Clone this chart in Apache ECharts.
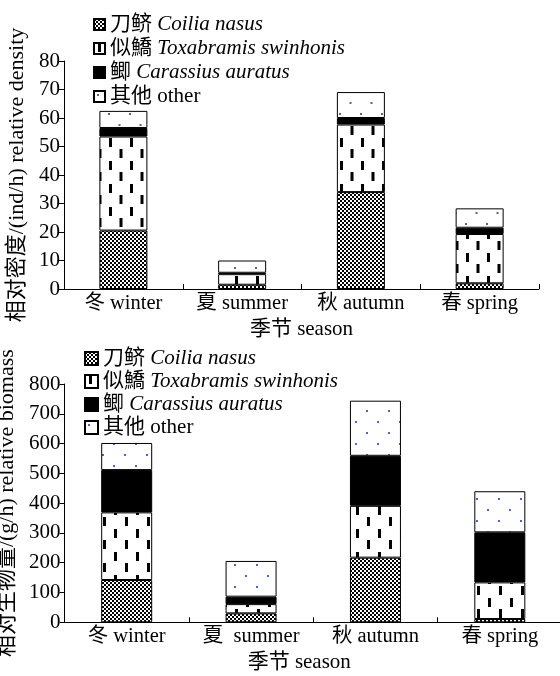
<!DOCTYPE html>
<html>
<head>
<meta charset="utf-8">
<script src="https://cdn.jsdelivr.net/npm/echarts@6/dist/echarts.min.js"></script>
<style>
html,body{margin:0;padding:0;background:#fff;}
#chart{width:560px;height:676px;}
</style>
</head>
<body>
<div id="chart"></div>
<script>
// ---- data ----
var seasons = ['冬 winter', '夏 summer', '秋 autumn', '春 spring'];
var seasonsBottom = ['冬 winter', '夏  summer', '秋 autumn', '春 spring'];
var speciesCn = ['刀鲚', '似鱎', '鲫', '其他'];
var speciesLatin = ['Coilia nasus', 'Toxabramis swinhonis', 'Carassius auratus', 'other'];
var latinItalic = [true, true, true, false];

var densityCoilia = [20.5, 1.5, 34, 2];
var densityToxabramis = [33, 3.7, 23.7, 17.3];
var densityCarassius = [3, 0.5, 2.3, 2.2];
var densityOther = [6, 4.3, 9.1, 6.8];

var biomassCoilia = [142, 30, 217, 11];
var biomassToxabramis = [227, 31, 174, 123];
var biomassCarassius = [142, 25, 168, 168];
var biomassOther = [91, 120, 185, 138];

var densityTicks = [0, 80, 10];
var biomassTicks = [0, 800, 100];

// ---- patterns ----
function mk(w, h, draw) {
  var c = document.createElement('canvas');
  c.width = w; c.height = h;
  var g = c.getContext('2d');
  g.fillStyle = '#fff'; g.fillRect(0, 0, w, h);
  draw(g);
  return { image: c, repeat: 'repeat' };
}
function checker() {
  return mk(4, 4, function (g) {
    g.fillStyle = '#000';
    g.fillRect(0, 0, 2, 2); g.fillRect(2, 2, 2, 2);
  });
}
function dashes(w) {
  return mk(w, 23, function (g) {
    g.fillStyle = '#000';
    g.fillRect(4, 0, 3, 9);
    g.fillRect(4 + w / 2, 11, 3, 9);
  });
}
function dots(w, col) {
  return mk(w, 22, function (g) {
    g.fillStyle = col;
    g.fillRect(3, 3, 2, 2);
    g.fillRect(3 + w / 2, 14, 2, 2);
  });
}

var FONT = "'Liberation Serif','Noto Sans CJK SC',serif";

function legendFormatter(name) {
  var i = speciesCn.indexOf(name.split('#')[0]);
  return '{cn|' + speciesCn[i] + '} {' + (latinItalic[i] ? 'it' : 'rm') + '|' + speciesLatin[i] + '}';
}

function richFor(size) {
  return {
    cn: { fontSize: size, fontFamily: FONT, color: '#000' },
    it: { fontSize: size, fontFamily: FONT, fontStyle: 'italic', color: '#000' },
    rm: { fontSize: size, fontFamily: FONT, color: '#000' }
  };
}

function makeSeries(suffix, gridIdx, values, fills, barW) {
  return values.map(function (v, i) {
    return {
      name: speciesCn[i] + suffix,
      type: 'bar',
      stack: 'total' + gridIdx,
      xAxisIndex: gridIdx,
      yAxisIndex: gridIdx,
      barWidth: barW,
      data: v,
      itemStyle: { color: fills[i], borderColor: '#000', borderWidth: 1 },
      emphasis: { disabled: true },
      animation: false
    };
  });
}

var topFills = [checker(), dashes(21), '#000', dots(21, '#666')];
var botFills = [checker(), dashes(22), '#000', dots(22, '#4a68c8')];

var series = []
  .concat(makeSeries('', 0, [densityCoilia, densityToxabramis, densityCarassius, densityOther], topFills, 48))
  .concat(makeSeries('#b', 1, [biomassCoilia, biomassToxabramis, biomassCarassius, biomassOther], botFills, 51));

function yAxisOf(gi, ticks, name, gap) {
  return {
    gridIndex: gi, type: 'value', min: ticks[0], max: ticks[1], interval: ticks[2],
    name: name, nameLocation: 'middle', nameGap: gap,
    nameTextStyle: { fontSize: 22, fontFamily: FONT, color: '#000' },
    axisLine: { show: true, lineStyle: { color: '#000', width: 1 } },
    axisTick: { show: true, inside: false, length: 5, lineStyle: { color: '#000' } },
    axisLabel: { fontSize: 21, fontFamily: FONT, color: '#000', margin: 4 },
    splitLine: { show: false }
  };
}
function xAxisOf(gi, cats, pad, gap) {
  return {
    gridIndex: gi, type: 'category', data: cats,
    name: '季节 season', nameLocation: 'middle', nameGap: gap,
    nameTextStyle: { fontSize: 21, fontFamily: FONT, color: '#000', padding: pad },
    axisLine: { show: true, lineStyle: { color: '#000', width: 1 } },
    axisTick: { show: true, inside: true, length: 5, interval: 0, lineStyle: { color: '#000' } },
    axisLabel: { fontSize: 20.5, fontFamily: FONT, color: '#000', margin: 4, interval: 0, hideOverlap: false },
    splitLine: { show: false }
  };
}

var option = {
  backgroundColor: '#fff',
  animation: false,
  textStyle: { fontFamily: FONT, color: '#000' },
  grid: [
    { left: 64, top: 61, width: 475, height: 228, outerBoundsMode: 'none', containLabel: false },
    { left: 64.5, top: 384, width: 497.5, height: 238.3, outerBoundsMode: 'none', containLabel: false }
  ],
  legend: [
    {
      data: speciesCn.slice(),
      orient: 'vertical', left: 88, top: 9, itemWidth: 11, itemHeight: 11, itemGap: 3,
      icon: 'rect', selectedMode: false,
      formatter: legendFormatter,
      textStyle: { fontSize: 21, fontFamily: FONT, color: '#000', rich: richFor(21) }
    },
    {
      data: speciesCn.map(function (s) { return s + '#b'; }),
      orient: 'vertical', left: 79, top: 343, itemWidth: 13, itemHeight: 13, itemGap: 2,
      icon: 'rect', selectedMode: false,
      formatter: legendFormatter,
      textStyle: { fontSize: 21, fontFamily: FONT, color: '#000', rich: richFor(21) }
    }
  ],
  xAxis: [xAxisOf(0, seasons, [0, 0, 0, 0], 30), xAxisOf(1, seasonsBottom, [0, 28, 0, 0], 30)],
  yAxis: [
    yAxisOf(0, densityTicks, '相对密度/(ind/h) relative density', 34),
    yAxisOf(1, biomassTicks, '相对生物量/(g/h) relative biomass', 38)
  ],
  series: series
};

var chart = echarts.init(document.getElementById('chart'), null, { renderer: 'canvas' });
chart.setOption(option);
</script>
</body>
</html>
